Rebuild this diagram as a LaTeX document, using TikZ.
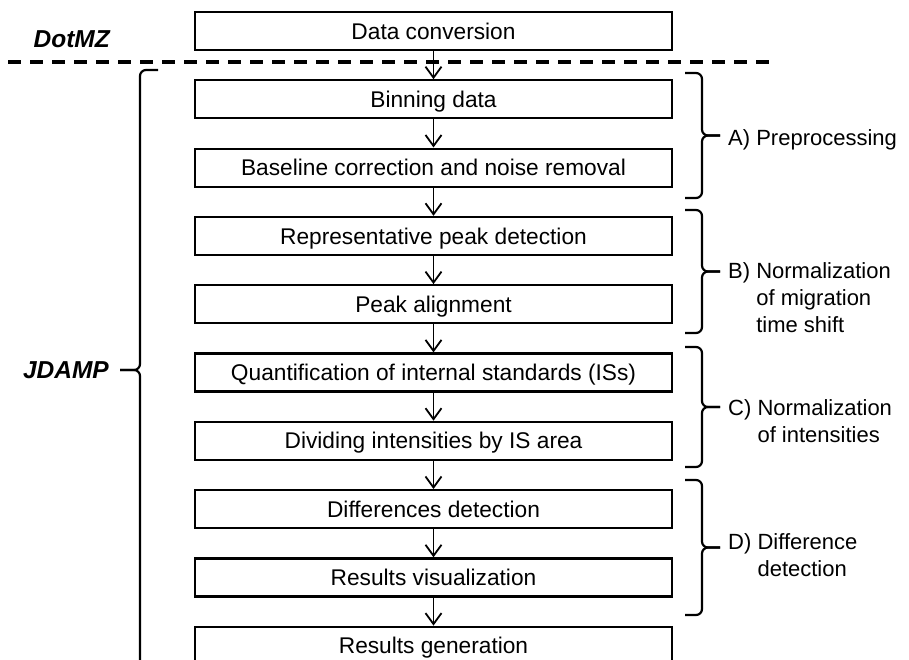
\documentclass[tikz,border=0pt]{standalone}
\usepackage{fontspec}
\setmainfont{Liberation Sans}
\usetikzlibrary{arrows.meta}
\begin{document}
\begin{tikzpicture}[x=1pt,y=-1pt,
  stepbox/.style={draw,line width=2.2pt,minimum width=477pt,minimum height=38pt,inner sep=0pt,
    font=\fontsize{22.7}{26}\selectfont,text height=16.2pt,text depth=0pt},
  flow/.style={line width=1.8pt,-{Straight Barb[length=11pt,width=16pt,line width=1.8pt]}},
  brc/.style={line width=2.2pt,rounded corners=6pt},
  lbl/.style={font=\fontsize{22}{27}\selectfont,inner sep=0pt,anchor=base west},
  tag/.style={font=\fontsize{24.5}{28}\selectfont\bfseries\itshape,inner sep=0pt,anchor=east},
  sep/.style={line width=3.5pt,dash pattern=on 13pt off 9pt}]
\clip (0,0) rectangle (909,659);
\useasboundingbox (0,0) rectangle (909,659);
% separator
\coordinate (s1) at (8,62);
\coordinate (s2) at (770,62);
\draw[sep] (s1) -- (s2);
% boxes
\node[stepbox] (b0) at (433.5,31.0)  {Data conversion};
\node[stepbox] (b1) at (433.5,99.3)  {Binning data};
\node[stepbox] (b2) at (433.5,167.6) {Baseline correction and noise removal};
\node[stepbox] (b3) at (433.5,235.9) {Representative peak detection};
\node[stepbox] (b4) at (433.5,304.2) {Peak alignment};
\node[stepbox] (b5) at (433.5,372.5) {Quantification of internal standards (ISs)};
\node[stepbox] (b6) at (433.5,440.8) {Dividing intensities by IS area};
\node[stepbox] (b7) at (433.5,509.1) {Differences detection};
\node[stepbox] (b8) at (433.5,577.4) {Results visualization};
\node[stepbox] (b9) at (433.5,645.7) {Results generation};
\foreach \a/\b in {b0/b1,b1/b2,b2/b3,b3/b4,b4/b5,b5/b6,b6/b7,b7/b8,b8/b9}
  \draw[flow] (\a.south) -- (\b.north);
% tags
\node[tag] (dotmz) at (110,39) {DotMZ};
\node[tag] (jdamp) at (109,370) {JDAMP};
% left brace
\draw[brc] (158,70) -- (140,70) -- (140,370) -- (120,370);
\draw[brc] (158,670) -- (140,670) -- (140,370) -- (120,370);
% right braces
\foreach \t/\b/\m in {73/198/135.5, 210/333/271.5, 347/467/407, 480/615/547.5}{
  \draw[brc] (685,\t) -- (702,\t) -- (702,\m) -- (720,\m);
  \draw[brc] (685,\b) -- (702,\b) -- (702,\m) -- (720,\m);
}
% labels
\node[lbl] (la) at (728,145.4) {A) Preprocessing};
\node[lbl] (lb) at (728,278) {\begin{tabular}[t]{@{}l@{\ }l@{}}B) & Normalization\\ & of migration\\ & time shift\end{tabular}};
\node[lbl] (lc) at (728,415) {\begin{tabular}[t]{@{}l@{\ }l@{}}C) & Normalization\\ & of intensities\end{tabular}};
\node[lbl] (ld) at (728,549) {\begin{tabular}[t]{@{}l@{\ }l@{}}D) & Difference\\ & detection\end{tabular}};
\end{tikzpicture}
\end{document}
